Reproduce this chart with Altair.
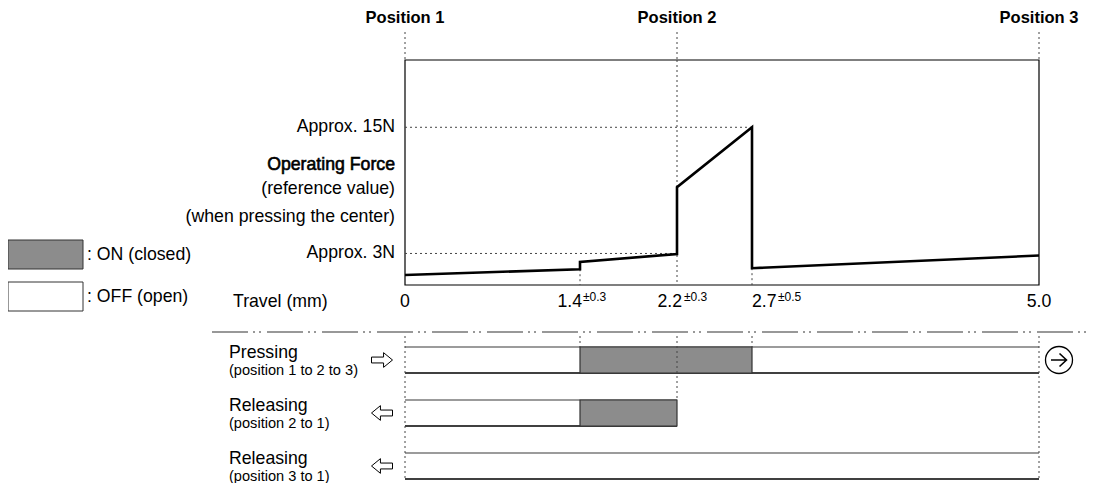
import altair as alt
import pandas as pd

# ---------------- data ----------------
travel_ticks = [0.0, 1.4, 2.2, 2.7, 5.0]
tick_labels = ["0", "1.4", "2.2", "2.7", "5.0"]
tick_tolerance = ["", "±0.3", "±0.3", "±0.5", ""]

force_travel = [0.0, 1.4, 1.4, 2.2, 2.2, 2.7, 2.7, 5.0]
force_value = [0.95, 1.5, 2.2, 2.95, 9.3, 15.0, 1.6, 2.8]
force_max = 21.4

ref_force = [15.0, 3.0]
ref_force_labels = ["Approx. 15N", "Approx. 3N"]
ref_force_end = [2.7, 2.2]

position_labels = ["Position 1", "Position 2", "Position 3"]
position_travel = [0.0, 2.2, 5.0]

row_keys = ["press", "rel21", "rel31"]
row_titles = ["Pressing", "Releasing", "Releasing"]
row_subtitles = ["(position 1 to 2 to 3)", "(position 2 to 1)", "(position 3 to 1)"]
row_end = [5.0, 2.2, 5.0]
row_direction = ["right", "left", "left"]

on_rows = ["press", "rel21"]
on_start = [1.4, 1.4]
on_end = [2.7, 2.2]

legend_labels = [": ON (closed)", ": OFF (open)"]
force_title = ["Operating Force", "(reference value)", "(when pressing the center)"]

# ---------------- styles ----------------
FONT = "Liberation Sans"
FS = 17.7
GRAY = "#8c8c8c"
DOT = [2, 3]
DOTC = "#444444"

xs = alt.Scale(type="linear", domain=travel_ticks, range=[0, 175, 272, 347, 634],
               nice=False, zero=False)
ys_force = alt.Scale(domain=[0, force_max], range=[225, 0], nice=False, zero=False)
ys_row = alt.Scale(type="band", domain=row_keys, range=[287, 419], paddingInner=0.509, paddingOuter=0)

one = pd.DataFrame({"k": [0]})

def X(f):
    return alt.X(f, type="quantitative", scale=xs, axis=None)

def YF(f):
    return alt.Y(f, type="quantitative", scale=ys_force, axis=None)

def YR(f, bp=None):
    if bp is None:
        return alt.Y(f, type="nominal", scale=ys_row, axis=None)
    return alt.Y(f, type="nominal", scale=ys_row, axis=None, bandPosition=bp)

layers = []

# ---- force chart ----
box_df = pd.DataFrame({"x0": [travel_ticks[0]], "x1": [travel_ticks[-1]],
                       "y0": [0.0], "y1": [force_max]})
layers.append(alt.Chart(box_df).mark_rect(fillOpacity=0, stroke="black", strokeWidth=1.2)
              .encode(x=X("x0"), x2="x1", y=YF("y0"), y2="y1"))

ref_df = pd.DataFrame({"x0": [0.0] * len(ref_force), "x1": ref_force_end, "f": ref_force,
                       "label": ref_force_labels})
layers.append(alt.Chart(ref_df).mark_rule(color=DOTC, strokeDash=DOT, strokeWidth=1)
              .encode(x=X("x0"), x2="x1", y=YF("f")))

# vertical dotted lines inside the box
vx, vtop = [], []
for t in [1.4, 2.2, 2.7]:
    vals = [v for xx, v in zip(force_travel, force_value) if xx == t]
    vx.append(t)
    vtop.append(force_max if t == position_travel[1] else min(vals))
vin_df = pd.DataFrame({"x": vx, "top": vtop, "bot": [0.0] * len(vx)})
layers.append(alt.Chart(vin_df).mark_rule(color=DOTC, strokeDash=DOT, strokeWidth=1)
              .encode(x=X("x"), y=YF("top"), y2="bot"))

force_df = pd.DataFrame({"i": list(range(len(force_travel))), "x": force_travel, "f": force_value})
layers.append(alt.Chart(force_df).mark_line(color="black", strokeWidth=2.6, strokeJoin="miter")
              .encode(x=X("x"), y=YF("f"), order=alt.Order("i:Q")))

layers.append(alt.Chart(ref_df).mark_text(font=FONT, fontSize=FS, align="right", baseline="middle")
              .encode(x=alt.value(-10), y=YF("f"), text="label:N"))

for txt, yy in zip(force_title, [105, 129, 157]):
    if txt == force_title[0]:
        mk = alt.Chart(pd.DataFrame({"t": [txt]})).mark_text(
            font=FONT, fontSize=FS, align="right", baseline="middle",
            stroke="black", strokeWidth=0.6)
    else:
        mk = alt.Chart(pd.DataFrame({"t": [txt]})).mark_text(
            font=FONT, fontSize=FS, align="right", baseline="middle")
    layers.append(mk.encode(x=alt.value(-10), y=alt.value(yy), text="t:N"))

# position labels and top dotted lines
pos_df = pd.DataFrame({"x": position_travel, "label": position_labels})
layers.append(alt.Chart(pos_df).mark_rule(color=DOTC, strokeDash=DOT, strokeWidth=1)
              .encode(x=X("x"), y=alt.value(-28), y2=alt.value(0)))
layers.append(alt.Chart(pos_df).mark_text(font=FONT, fontSize=16.5, fontWeight="bold",
                                          align="center", baseline="alphabetic")
              .encode(x=X("x"), y=alt.value(-37), text="label:N"))

# tick labels
tick_style = [("center", 0, 0), ("right", 2, 3), ("right", 5, 7), ("left", 0, 26), ("center", 0, 0)]
for t, lab, tol, (al, dxm, dxs) in zip(travel_ticks, tick_labels, tick_tolerance, tick_style):
    d = pd.DataFrame({"x": [t], "lab": [lab], "tol": [tol]})
    layers.append(alt.Chart(d).mark_text(font=FONT, fontSize=FS, align=al, dx=dxm,
                                         baseline="alphabetic")
                  .encode(x=X("x"), y=alt.value(247), text="lab:N"))
    if tol:
        layers.append(alt.Chart(d).mark_text(font=FONT, fontSize=12, align="left", dx=dxs,
                                             baseline="alphabetic")
                      .encode(x=X("x"), y=alt.value(241), text="tol:N"))

layers.append(alt.Chart(pd.DataFrame({"t": ["Travel (mm)"]}))
              .mark_text(font=FONT, fontSize=FS, align="left", baseline="alphabetic")
              .encode(x=alt.value(-172), y=alt.value(247), text="t:N"))

# legend
for lab, fill, y0 in zip(legend_labels, [GRAY, "white"], [180, 222]):
    layers.append(alt.Chart(one).mark_rect(fill=fill, stroke="#333333", strokeWidth=1)
                  .encode(x=alt.value(-397), x2=alt.value(-322), y=alt.value(y0), y2=alt.value(y0 + 29)))
    layers.append(alt.Chart(pd.DataFrame({"t": [lab]}))
                  .mark_text(font=FONT, fontSize=FS, align="left", baseline="middle")
                  .encode(x=alt.value(-318), y=alt.value(y0 + 15), text="t:N"))

# separator dash-dot line
layers.append(alt.Chart(one).mark_rule(color="#333333", strokeWidth=1.2,
                                       strokeDash=[36, 5, 2, 4, 2, 6])
              .encode(x=alt.value(-193), x2=alt.value(692), y=alt.value(272)))

# ---- timing chart ----
rows_df = pd.DataFrame({"row": row_keys, "x0": [0.0] * 3, "x1": row_end,
                        "title": row_titles, "sub": row_subtitles, "dir": row_direction})
layers.append(alt.Chart(rows_df).mark_rule(color="#7a7a7a", strokeWidth=1.5)
              .encode(x=X("x0"), x2="x1", y=YR("row", 0)))
layers.append(alt.Chart(rows_df).mark_rule(color="black", strokeWidth=1.5)
              .encode(x=X("x0"), x2="x1", y=YR("row", 1)))

on_df = pd.DataFrame({"row": on_rows, "s": on_start, "e": on_end})
layers.append(alt.Chart(on_df).mark_rect(fill=GRAY, stroke="#333333", strokeWidth=1.2)
              .encode(x=X("s"), x2="e", y=YR("row")))

# dotted verticals in timing area
groups = [([0.0, 5.0], 419), ([1.4, 2.7], 287), ([2.2], 340)]
for xsv, y2 in groups:
    layers.append(alt.Chart(pd.DataFrame({"x": xsv})).mark_rule(color=DOTC, strokeDash=DOT, strokeWidth=1)
                  .encode(x=X("x"), y=alt.value(276), y2=alt.value(y2)))

layers.append(alt.Chart(rows_df).mark_text(font=FONT, fontSize=FS, align="left", baseline="alphabetic", dy=-2)
              .encode(x=alt.value(-176), y=YR("row"), text="title:N"))
layers.append(alt.Chart(rows_df).mark_text(font=FONT, fontSize=14.6, align="left", baseline="alphabetic", dy=15)
              .encode(x=alt.value(-176), y=YR("row"), text="sub:N"))

RIGHT = "M-1,-0.28 L0.15,-0.28 L0.15,-0.7 L1,0 L0.15,0.7 L0.15,0.28 L-1,0.28 Z"
LEFT = "M1,-0.28 L-0.15,-0.28 L-0.15,-0.7 L-1,0 L-0.15,0.7 L-0.15,0.28 L1,0.28 Z"
for dname, path in [("right", RIGHT), ("left", LEFT)]:
    layers.append(alt.Chart(rows_df).transform_filter(alt.datum.dir == dname)
                  .mark_point(shape=path, size=441, filled=False, color="black", strokeWidth=1, opacity=1)
                  .encode(x=alt.value(-23), y=YR("row")))

end_df = rows_df[rows_df["row"] == row_keys[0]]
layers.append(alt.Chart(end_df).mark_point(shape="circle", size=729, filled=False, color="black",
                                           strokeWidth=1.3, opacity=1)
              .encode(x=alt.value(654), y=YR("row")))
layers.append(alt.Chart(end_df).mark_point(shape="M-0.8,0 L0.72,0 M0.05,-0.65 L0.75,0 L0.05,0.65",
                                           size=400, filled=False, color="black",
                                           strokeWidth=1.6, opacity=1)
              .encode(x=alt.value(654), y=YR("row")))

chart = (alt.layer(*layers)
         .resolve_scale(y="independent")
         .properties(width=634, height=420,
                     autosize=alt.AutoSizeParams(type="none"),
                     padding={"left": 397, "top": 52, "right": 50, "bottom": 3},
                     background="white")
         .configure_view(stroke=None))

chart.save("out.html", embed_options={"renderer": "svg", "actions": False})
